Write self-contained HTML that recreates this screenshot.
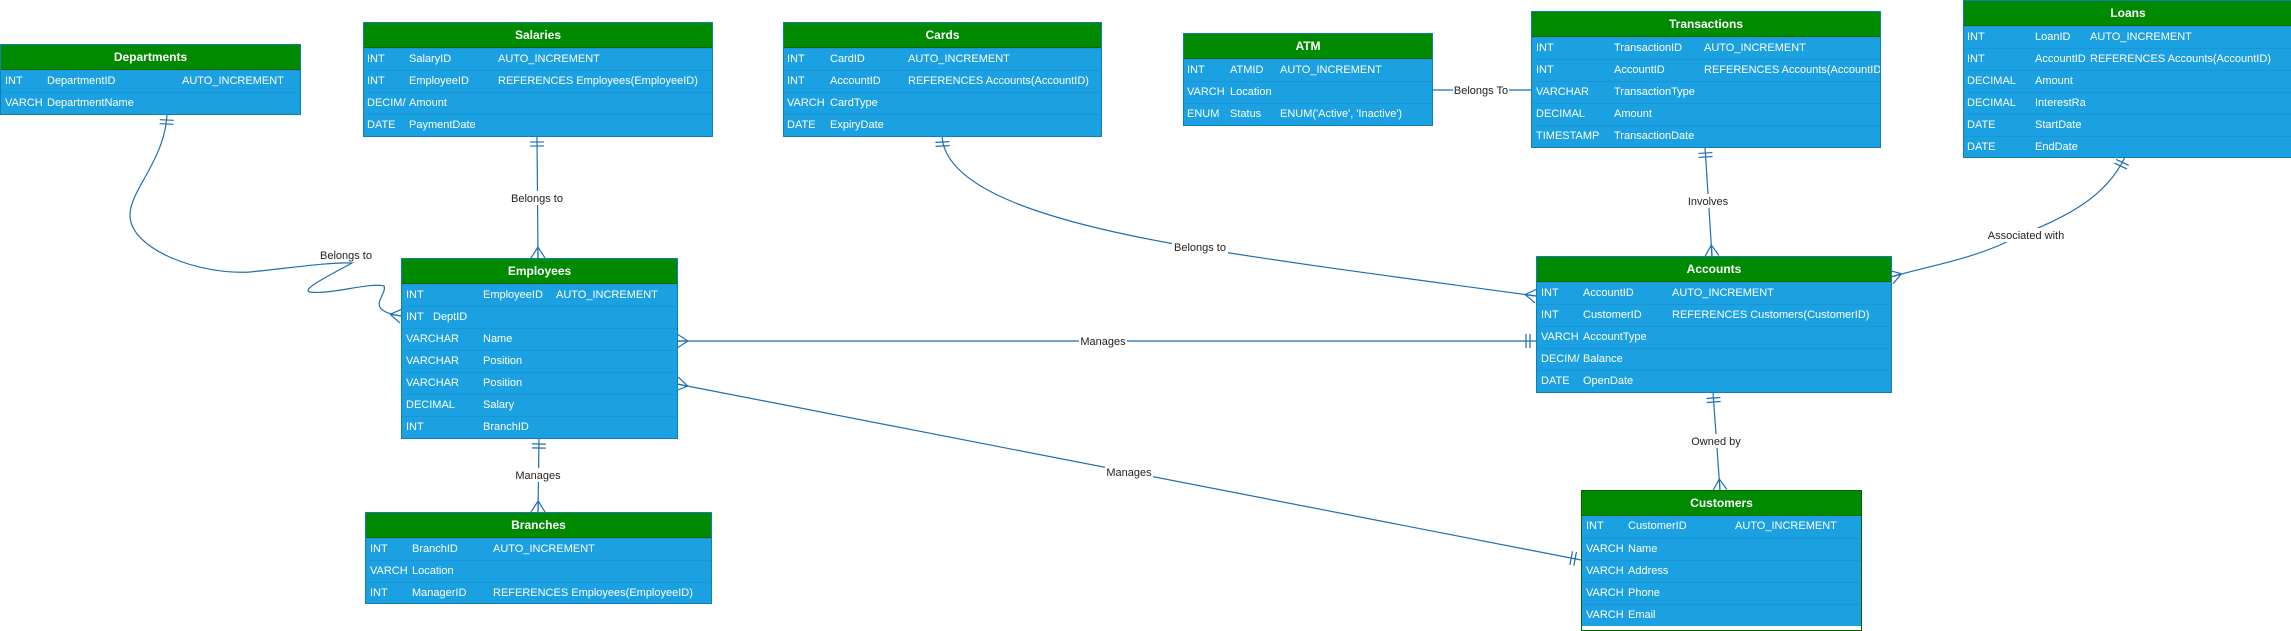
<!DOCTYPE html>
<html><head><meta charset="utf-8"><style>
*{margin:0;padding:0;box-sizing:border-box}
body{width:2291px;height:631px;background:#fff;position:relative;overflow:hidden;font-family:"Liberation Sans",Arial,sans-serif}
.t{position:absolute;background:#1ba1e2;border:1px solid #0f7fb8;overflow:hidden}
.h{height:25px;background:#008a00;border-bottom:1px solid #006600;color:#fff;font-weight:bold;font-size:12px;text-align:center;line-height:25px}
.r{height:22px;border-top:1px solid #1996d6;position:relative;color:#fff;font-size:11px;line-height:21px;white-space:nowrap}
.r:first-of-type{border-top:none}
.r span{position:absolute;top:0}
svg{position:absolute;left:0;top:0}
.lb{font-family:"Liberation Sans",Arial,sans-serif;font-size:11px;fill:#222}
</style></head><body>
<svg width="2291" height="631">
<defs>
<marker id="one" markerUnits="userSpaceOnUse" markerWidth="30" markerHeight="30" refX="0" refY="15" viewBox="-15 0 30 30" orient="auto-start-reverse">
<path d="M-6,8 L-6,22 M-10,8 L-10,22" stroke="#1f6fb0" stroke-width="1.2" fill="none"/></marker>
<marker id="many" markerUnits="userSpaceOnUse" markerWidth="30" markerHeight="30" refX="0" refY="15" viewBox="-15 0 30 30" orient="auto-start-reverse">
<path d="M-11,15 L0,8 M-11,15 L0,22 M-11,15 L0,15" stroke="#1f6fb0" stroke-width="1.2" fill="none"/></marker>
</defs>
<g stroke="#1f6fb0" stroke-width="1.2" fill="none">
<path d="M167,114 C165,160 130,190 130,215 C130,250 200,275 250,272 C290,268 330,262 352,263 C330,275 300,290 310,292 C330,295 370,282 384,286 C388,295 362,310 401,316" marker-start="url(#one)" marker-end="url(#many)"/>
<path d="M537,136 L538,258" marker-start="url(#one)" marker-end="url(#many)"/>
<path d="M539,438 L538,512" marker-start="url(#one)" marker-end="url(#many)"/>
<path d="M677,341 L1536,341" marker-start="url(#many)" marker-end="url(#one)"/>
<path d="M677,384 L1581,560" marker-start="url(#many)" marker-end="url(#one)"/>
<path d="M942,136 C945,190 1050,222 1180,245 C1300,265 1420,280 1536,296" marker-start="url(#one)" marker-end="url(#many)"/>
<path d="M1432,90 L1531,90"/>
<path d="M1705,147 L1712,256" marker-start="url(#one)" marker-end="url(#many)"/>
<path d="M2125,157 C2100,210 2040,225 2000,245 C1960,262 1920,268 1891,277" marker-start="url(#one)" marker-end="url(#many)"/>
<path d="M1713,392 L1720,490" marker-start="url(#one)" marker-end="url(#many)"/>
</g>
<g>
<rect x="318" y="248" width="56" height="14" fill="#fff"/><text class="lb" x="346" y="259" text-anchor="middle">Belongs to</text>
<rect x="509" y="191" width="56" height="14" fill="#fff"/><text class="lb" x="537" y="202" text-anchor="middle">Belongs to</text>
<rect x="514" y="468" width="48" height="14" fill="#fff"/><text class="lb" x="538" y="479" text-anchor="middle">Manages</text>
<rect x="1079" y="334" width="48" height="14" fill="#fff"/><text class="lb" x="1103" y="345" text-anchor="middle">Manages</text>
<rect x="1105" y="465" width="48" height="14" fill="#fff"/><text class="lb" x="1129" y="476" text-anchor="middle">Manages</text>
<rect x="1172" y="240" width="56" height="14" fill="#fff"/><text class="lb" x="1200" y="251" text-anchor="middle">Belongs to</text>
<rect x="1453" y="83" width="56" height="14" fill="#fff"/><text class="lb" x="1481" y="94" text-anchor="middle">Belongs To</text>
<rect x="1686" y="194" width="44" height="14" fill="#fff"/><text class="lb" x="1708" y="205" text-anchor="middle">Involves</text>
<rect x="1988" y="228" width="78" height="14" fill="#fff"/><text class="lb" x="2026" y="239" text-anchor="middle">Associated with</text>
<rect x="1691" y="434" width="50" height="14" fill="#fff"/><text class="lb" x="1716" y="445" text-anchor="middle">Owned by</text>
</g>
</svg>

<div class="t" style="left:0;top:44px;width:301px;height:71px"><div class="h">Departments</div>
<div class="r"><span style="left:4px">INT</span><span style="left:46px">DepartmentID</span><span style="left:181px">AUTO_INCREMENT</span></div>
<div class="r"><span style="left:4px">VARCH</span><span style="left:46px">DepartmentName</span></div></div>

<div class="t" style="left:363px;top:22px;width:350px;height:115px"><div class="h">Salaries</div>
<div class="r"><span style="left:3px">INT</span><span style="left:45px">SalaryID</span><span style="left:134px">AUTO_INCREMENT</span></div>
<div class="r"><span style="left:3px">INT</span><span style="left:45px">EmployeeID</span><span style="left:134px">REFERENCES Employees(EmployeeID)</span></div>
<div class="r"><span style="left:3px">DECIM/</span><span style="left:45px">Amount</span></div>
<div class="r"><span style="left:3px">DATE</span><span style="left:45px">PaymentDate</span></div></div>

<div class="t" style="left:401px;top:258px;width:277px;height:181px"><div class="h">Employees</div>
<div class="r"><span style="left:4px">INT</span><span style="left:81px">EmployeeID</span><span style="left:154px">AUTO_INCREMENT</span></div>
<div class="r"><span style="left:4px">INT</span><span style="left:31px">DeptID</span></div>
<div class="r"><span style="left:4px">VARCHAR</span><span style="left:81px">Name</span></div>
<div class="r"><span style="left:4px">VARCHAR</span><span style="left:81px">Position</span></div>
<div class="r"><span style="left:4px">VARCHAR</span><span style="left:81px">Position</span></div>
<div class="r"><span style="left:4px">DECIMAL</span><span style="left:81px">Salary</span></div>
<div class="r"><span style="left:4px">INT</span><span style="left:81px">BranchID</span></div></div>

<div class="t" style="left:365px;top:512px;width:347px;height:92px"><div class="h">Branches</div>
<div class="r"><span style="left:4px">INT</span><span style="left:46px">BranchID</span><span style="left:127px">AUTO_INCREMENT</span></div>
<div class="r"><span style="left:4px">VARCH</span><span style="left:46px">Location</span></div>
<div class="r"><span style="left:4px">INT</span><span style="left:46px">ManagerID</span><span style="left:127px">REFERENCES Employees(EmployeeID)</span></div></div>

<div class="t" style="left:783px;top:22px;width:319px;height:115px"><div class="h">Cards</div>
<div class="r"><span style="left:3px">INT</span><span style="left:46px">CardID</span><span style="left:124px">AUTO_INCREMENT</span></div>
<div class="r"><span style="left:3px">INT</span><span style="left:46px">AccountID</span><span style="left:124px">REFERENCES Accounts(AccountID)</span></div>
<div class="r"><span style="left:3px">VARCH</span><span style="left:46px">CardType</span></div>
<div class="r"><span style="left:3px">DATE</span><span style="left:46px">ExpiryDate</span></div></div>

<div class="t" style="left:1183px;top:33px;width:250px;height:93px"><div class="h">ATM</div>
<div class="r"><span style="left:3px">INT</span><span style="left:46px">ATMID</span><span style="left:96px">AUTO_INCREMENT</span></div>
<div class="r"><span style="left:3px">VARCH</span><span style="left:46px">Location</span></div>
<div class="r"><span style="left:3px">ENUM</span><span style="left:46px">Status</span><span style="left:96px">ENUM('Active', 'Inactive')</span></div></div>

<div class="t" style="left:1531px;top:11px;width:350px;height:137px"><div class="h">Transactions</div>
<div class="r"><span style="left:4px">INT</span><span style="left:82px">TransactionID</span><span style="left:172px">AUTO_INCREMENT</span></div>
<div class="r"><span style="left:4px">INT</span><span style="left:82px">AccountID</span><span style="left:172px">REFERENCES Accounts(AccountID)</span></div>
<div class="r"><span style="left:4px">VARCHAR</span><span style="left:82px">TransactionType</span></div>
<div class="r"><span style="left:4px">DECIMAL</span><span style="left:82px">Amount</span></div>
<div class="r"><span style="left:4px">TIMESTAMP</span><span style="left:82px">TransactionDate</span></div></div>

<div class="t" style="left:1963px;top:0;width:330px;height:158px"><div class="h">Loans</div>
<div class="r"><span style="left:3px">INT</span><span style="left:71px">LoanID</span><span style="left:126px">AUTO_INCREMENT</span></div>
<div class="r"><span style="left:3px">INT</span><span style="left:71px">AccountID</span><span style="left:126px">REFERENCES Accounts(AccountID)</span></div>
<div class="r"><span style="left:3px">DECIMAL</span><span style="left:71px">Amount</span></div>
<div class="r"><span style="left:3px">DECIMAL</span><span style="left:71px">InterestRa</span></div>
<div class="r"><span style="left:3px">DATE</span><span style="left:71px">StartDate</span></div>
<div class="r"><span style="left:3px">DATE</span><span style="left:71px">EndDate</span></div></div>

<div class="t" style="left:1536px;top:256px;width:356px;height:137px"><div class="h">Accounts</div>
<div class="r"><span style="left:4px">INT</span><span style="left:46px">AccountID</span><span style="left:135px">AUTO_INCREMENT</span></div>
<div class="r"><span style="left:4px">INT</span><span style="left:46px">CustomerID</span><span style="left:135px">REFERENCES Customers(CustomerID)</span></div>
<div class="r"><span style="left:4px">VARCH</span><span style="left:46px">AccountType</span></div>
<div class="r"><span style="left:4px">DECIM/</span><span style="left:46px">Balance</span></div>
<div class="r"><span style="left:4px">DATE</span><span style="left:46px">OpenDate</span></div></div>

<div class="t" style="left:1581px;top:490px;width:281px;height:141px;background:#fff;border-color:#006600"><div class="h">Customers</div>
<div style="background:#1ba1e2">
<div class="r"><span style="left:4px">INT</span><span style="left:46px">CustomerID</span><span style="left:153px">AUTO_INCREMENT</span></div>
<div class="r"><span style="left:4px">VARCH</span><span style="left:46px">Name</span></div>
<div class="r"><span style="left:4px">VARCH</span><span style="left:46px">Address</span></div>
<div class="r"><span style="left:4px">VARCH</span><span style="left:46px">Phone</span></div>
<div class="r"><span style="left:4px">VARCH</span><span style="left:46px">Email</span></div></div></div>
</body></html>
